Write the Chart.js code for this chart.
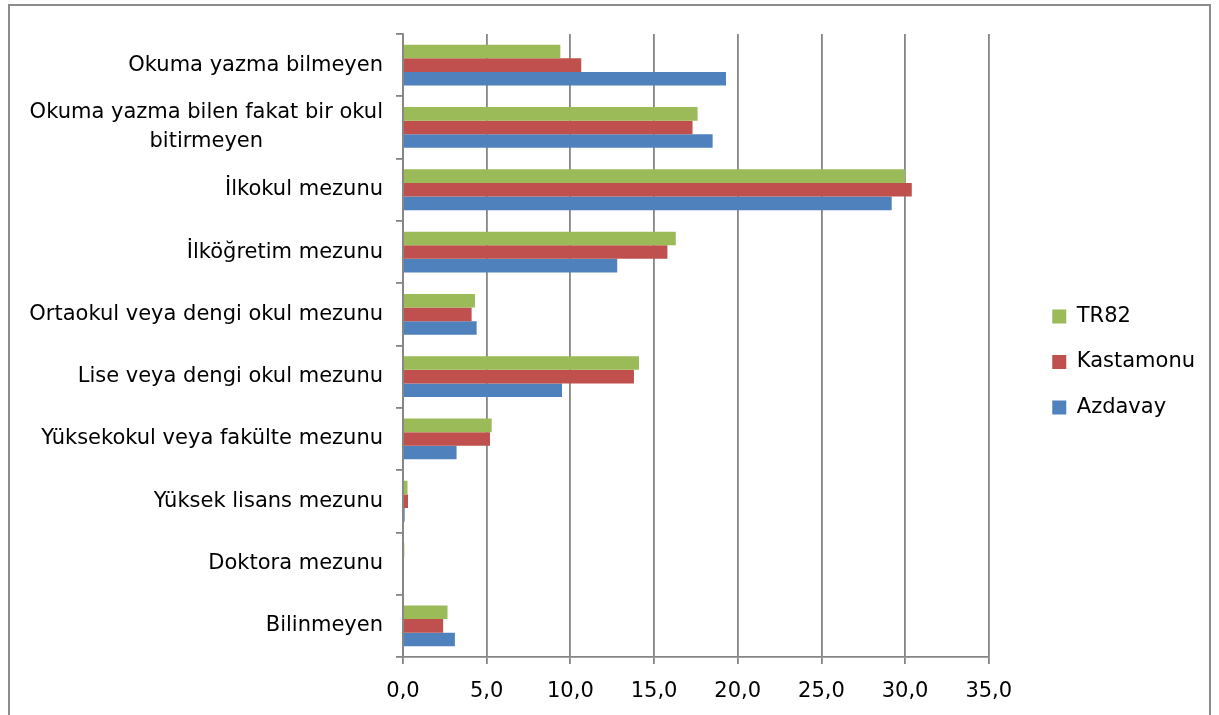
<!DOCTYPE html>
<html>
<head>
<meta charset="utf-8">
<script src="https://cdn.jsdelivr.net/npm/chart.js@4.4.0/dist/chart.umd.min.js"></script>
<style>
  body { margin: 0; background: #fff; overflow: hidden; }
  #frame { position: absolute; left: 8px; top: 4px; width: 1199px; height: 740px; border: 2px solid #8c8c8c; pointer-events: none; }
  #chart { position: absolute; left: 0; top: 0; }
</style>
</head>
<body>
<canvas id="chart" width="1219" height="715"></canvas>
<div id="frame"></div>
<script>
// categories, top to bottom
var categories = [
    'Okuma yazma bilmeyen',
    ['Okuma yazma bilen fakat bir okul', 'bitirmeyen'],
    'İlkokul mezunu',
    'İlköğretim mezunu',
    'Ortaokul veya dengi okul mezunu',
    'Lise veya dengi okul mezunu',
    'Yüksekokul veya fakülte mezunu',
    'Yüksek lisans mezunu',
    'Doktora mezunu',
    'Bilinmeyen'
];
var tr82 = [9.4, 17.6, 30.0, 16.3, 4.3, 14.1, 5.3, 0.27, 0.08, 2.66];
var kastamonu = [10.65, 17.3, 30.4, 15.8, 4.1, 13.8, 5.2, 0.3, 0.06, 2.4];
var azdavay = [19.3, 18.5, 29.2, 12.8, 4.4, 9.5, 3.2, 0.1, 0.05, 3.1];
var xTicks = [0, 5, 10, 15, 20, 25, 30, 35];

var fontName = "'DejaVu Sans', sans-serif";
var fontSize = 21;
var gridColor = '#858585';

// draws the category labels so that wrapped ones are centred under their first line
var yLabelPlugin = {
    id: 'yLabels',
    afterDraw: function (chart) {
        var ctx = chart.ctx;
        var yScale = chart.scales.y;
        var right = yScale.right - 20;
        ctx.save();
        ctx.font = fontSize + 'px ' + fontName;
        ctx.fillStyle = '#000';
        ctx.textAlign = 'center';
        ctx.textBaseline = 'middle';
        categories.forEach(function (label, i) {
            var lines = Array.isArray(label) ? label : [label];
            var maxW = 0;
            lines.forEach(function (l) { maxW = Math.max(maxW, ctx.measureText(l).width); });
            var cx = right - maxW / 2;
            var cy = yScale.getPixelForValue(i);
            var lh = 29;
            lines.forEach(function (l, j) {
                ctx.fillText(l, cx, cy + (j - (lines.length - 1) / 2) * lh);
            });
        });
        ctx.restore();
    }
};

// empty spacer axes, only there to hold room around the plot
function spacer(axis, position, size) {
    return {
        type: 'linear',
        axis: axis,
        position: position,
        afterFit: function (scale) {
            if (axis === 'x') { scale.height = size; } else { scale.width = size; }
        },
        grid: { display: false },
        border: { display: false },
        ticks: { display: false }
    };
}

new Chart(document.getElementById('chart').getContext('2d'), {
    type: 'bar',
    data: {
        labels: categories,
        datasets: [
            { label: 'TR82', data: tr82, backgroundColor: '#9BBB59' },
            { label: 'Kastamonu', data: kastamonu, backgroundColor: '#C0504D' },
            { label: 'Azdavay', data: azdavay, backgroundColor: '#4F81BD' }
        ]
    },
    options: {
        indexAxis: 'y',
        responsive: false,
        animation: false,
        layout: { padding: { top: 9, right: 14, bottom: 0, left: 0 } },
        datasets: { bar: { categoryPercentage: 0.655, barPercentage: 1 } },
        scales: {
            x: {
                min: 0,
                max: 35,
                afterBuildTicks: function (scale) {
                    scale.ticks = xTicks.map(function (v) { return { value: v }; });
                },
                afterFit: function (scale) { scale.height = 58; },
                grid: { color: gridColor, lineWidth: 1.8, tickLength: 7 },
                border: { color: gridColor, width: 1.8 },
                ticks: {
                    color: '#000',
                    padding: 15,
                    maxRotation: 0,
                    font: { family: fontName, size: fontSize },
                    callback: function (v) { return v.toFixed(1).replace('.', ','); }
                }
            },
            y: {
                afterFit: function (scale) { scale.width = 403; },
                grid: { drawOnChartArea: false, offset: true, color: gridColor, lineWidth: 1.8, tickLength: 7 },
                border: { color: gridColor, width: 1.8 },
                ticks: { display: false }
            },
            gapTop: spacer('x', 'top', 25),
            gapRight: spacer('y', 'right', 39)
        },
        plugins: {
            legend: {
                position: 'right',
                labels: {
                    boxWidth: 14,
                    boxHeight: 14,
                    padding: 24.5,
                    color: '#000',
                    font: { family: fontName, size: fontSize }
                }
            },
            tooltip: { enabled: false }
        }
    },
    plugins: [yLabelPlugin]
});
</script>
</body>
</html>
